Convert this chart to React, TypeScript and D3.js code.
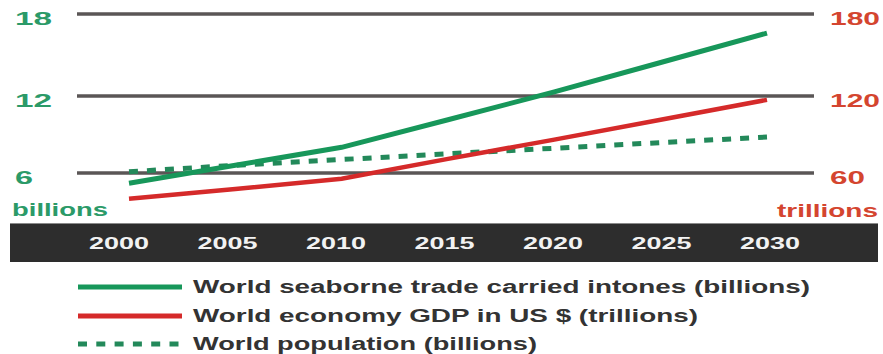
import React from "react";
import * as d3 from "d3";

const years = [2000, 2005, 2010, 2015, 2020, 2025, 2030];
const tradeBillionTonnes = [5.2, 6.6, 8.0, 10.15, 12.3, 14.45, 16.6];
const gdpTrillions = [40, 47.5, 55.5, 71, 86, 101.5, 117];
const populationBillions = [6.1, 6.6, 7.05, 7.5, 7.93, 8.37, 8.8];
const leftTicks = [6, 12, 18];
const rightTicks = [60, 120, 180];
const yearLabels = ["2000", "2005", "2010", "2015", "2020", "2025", "2030"];
const legendLabels = [
  "World seaborne trade carried intones (billions)",
  "World economy GDP in US $ (trillions)",
  "World population (billions)",
];

const FONT = "'Liberation Sans', Arial, Helvetica, sans-serif";
const GREEN = "#17975a";
const DOT_GREEN = "#23895a";
const RED = "#d52a2a";
const LEFT_TXT = "#2b9a68";
const RIGHT_TXT = "#d4452f";

export default function App() {
  const W = 883;
  const H = 354;
  const x = d3.scaleLinear().domain([2000, 2030]).range([129, 767]);
  const xLab = d3.scalePoint<string>().domain(yearLabels).range([119, 770]);
  const yL = d3.scaleLinear().domain([6, 12, 18]).range([173, 96, 14]);
  const yR = d3.scaleLinear().domain([60, 120, 180]).range([173, 96, 14]);

  const line = (vals: number[], y: d3.ScaleLinear<number, number>) =>
    d3
      .line<number>()
      .x((_, i) => x(years[i]))
      .y((v) => y(v))(vals) || "";

  const leftW: Record<number, number> = { 18: 37, 12: 37, 6: 18 };
  const rightW: Record<number, number> = { 180: 50, 120: 50, 60: 35 };
  const legendW = [617, 505, 344];
  const legendY = [287, 316, 344];

  return (
    <svg
      width={W}
      height={H}
      style={{ position: "absolute", left: 0, top: 0, background: "#fff" }}
      fontFamily={FONT}
      fontWeight="bold"
    >
      <rect x={0} y={0} width={W} height={H} fill="#fff" />
      {/* gridlines */}
      {leftTicks.map((t) => (
        <line key={t} x1={77} x2={814} y1={yL(t)} y2={yL(t)} stroke="#5a5656" strokeWidth={3.5} />
      ))}
      {/* left labels */}
      {leftTicks.map((t) => (
        <text
          key={t}
          x={15}
          y={yL(t) + 11}
          fontSize={18}
          fill={LEFT_TXT}
          textLength={leftW[t]}
          lengthAdjust="spacingAndGlyphs"
        >
          {t}
        </text>
      ))}
      <text x={12} y={216} fontSize={18} fill={LEFT_TXT} textLength={96} lengthAdjust="spacingAndGlyphs">
        billions
      </text>
      {/* right labels */}
      {rightTicks.map((t) => (
        <text
          key={t}
          x={830}
          y={yR(t) + 11}
          fontSize={18}
          fill={RIGHT_TXT}
          textLength={rightW[t]}
          lengthAdjust="spacingAndGlyphs"
        >
          {t}
        </text>
      ))}
      <text x={777} y={217} fontSize={18} fill={RIGHT_TXT} textLength={101} lengthAdjust="spacingAndGlyphs">
        trillions
      </text>
      {/* series */}
      <path
        d={line(populationBillions, yL)}
        fill="none"
        stroke={DOT_GREEN}
        strokeWidth={5}
        strokeDasharray="9 9"
      />
      <path d={line(gdpTrillions, yR)} fill="none" stroke={RED} strokeWidth={4.5} />
      <path d={line(tradeBillionTonnes, yL)} fill="none" stroke={GREEN} strokeWidth={5} />
      {/* year band */}
      <rect x={10} y={223} width={868} height={39} fill="#2d2d2d" />
      <line x1={10} x2={878} y1={223.5} y2={223.5} stroke="#8a8a8a" strokeWidth={1} />
      {yearLabels.map((yl) => (
        <text
          key={yl}
          x={xLab(yl)}
          y={249}
          fontSize={17}
          fill="#f2f2f2"
          textAnchor="middle"
          textLength={60}
          lengthAdjust="spacingAndGlyphs"
        >
          {yl}
        </text>
      ))}
      {/* legend */}
      <line x1={78} x2={182} y1={legendY[0]} y2={legendY[0]} stroke={GREEN} strokeWidth={5} />
      <line x1={78} x2={182} y1={legendY[1]} y2={legendY[1]} stroke={RED} strokeWidth={5} />
      <line
        x1={78}
        x2={180}
        y1={legendY[2]}
        y2={legendY[2]}
        stroke={DOT_GREEN}
        strokeWidth={5}
        strokeDasharray="9 9.3"
      />
      {legendLabels.map((lab, i) => (
        <text
          key={lab}
          x={193}
          y={legendY[i] + 5.5}
          fontSize={18}
          fill="#333"
          textLength={legendW[i]}
          lengthAdjust="spacingAndGlyphs"
        >
          {lab}
        </text>
      ))}
    </svg>
  );
}
